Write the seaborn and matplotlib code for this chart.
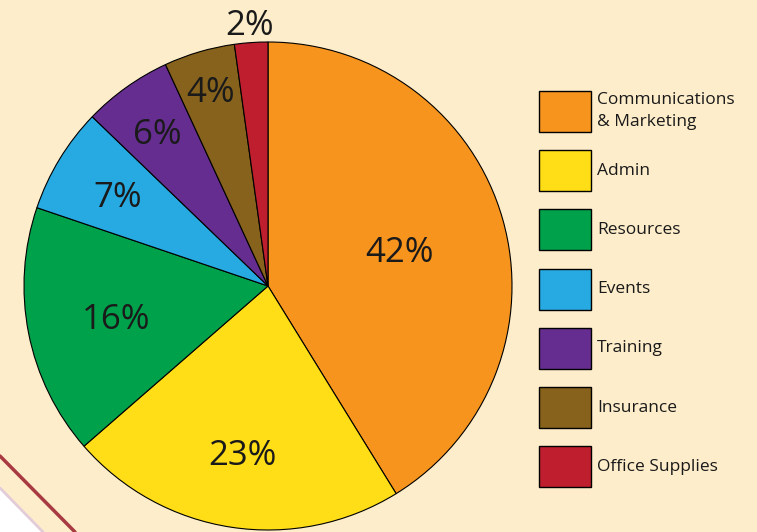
import numpy as np
import matplotlib
matplotlib.use("Agg")
import matplotlib.pyplot as plt
from matplotlib.patches import Polygon, Rectangle
from matplotlib.lines import Line2D
from matplotlib.transforms import offset_copy
import seaborn as sns

# budget breakdown (wedge sizes as drawn, labels as printed)
categories = ["Communications\n& Marketing", "Admin", "Resources", "Events",
              "Training", "Insurance", "Office Supplies"]
shares = [41.2, 22.4, 16.6, 7.0, 5.9, 4.7, 2.2]
pct_labels = ["42%", "23%", "16%", "7%", "6%", "4%", "2%"]
colors = ["#F7941D", "#FFDD17", "#00A14B", "#27AAE1", "#662D91", "#86621C", "#BE1E2D"]

# radial distance of each percentage label (styling)
label_dist = [0.56, 0.69, 0.636, 0.722, 0.782, 0.84, 1.086]

bg = "#FDEDCA"
ink = "#1A1A1A"
sns.set_style("white")
plt.rcParams["font.family"] = ["Open Sans", "DejaVu Sans"]

fig = plt.figure(figsize=(7.57, 5.32), dpi=100)
fig.patch.set_facecolor(bg)

W, H = 757, 532
# decorative corner
fig.patches.append(Polygon([(0, 0), (43 / W, 0), (0, (H - 488) / H)], closed=True,
                           transform=fig.transFigure, facecolor="white", edgecolor="none"))
fig.add_artist(Line2D([0, 43 / W], [(H - 488) / H, 0], transform=fig.transFigure,
                      color="#E3CCDA", lw=2))
fig.add_artist(Line2D([0, 75 / W], [(H - 456) / H, 0], transform=fig.transFigure,
                      color="#A83A42", lw=2.5))

# pie: centre (268, 286) px, radius 244 px
r = 244
ax = fig.add_axes([(268 - r) / W, (H - 286 - r) / H, 2 * r / W, 2 * r / H])
ax.set_facecolor("none")
wedges, _ = ax.pie(shares, colors=colors, startangle=90, counterclock=False,
                   wedgeprops=dict(edgecolor="black", linewidth=0.8))
# nudge labels down a little so the digits, not the line box, sit centred
lab_tr = offset_copy(ax.transData, fig=fig, x=0, y=-4, units="dots")
for w, lab, d in zip(wedges, pct_labels, label_dist):
    ang = np.deg2rad((w.theta1 + w.theta2) / 2)
    ax.text(d * np.cos(ang), d * np.sin(ang), lab, ha="center", va="center",
            fontsize=25, color=ink, clip_on=False, transform=lab_tr)
ax.set_xlim(-1, 1)
ax.set_ylim(-1, 1)
ax.set_aspect("equal")
ax.axis("off")

# legend: swatch rows on the right
box_x, box_w, box_h = 539, 52, 41
top0, pitch = 91, 59.2
for i, (cat, c) in enumerate(zip(categories, colors)):
    top = top0 + i * pitch
    fig.add_artist(Rectangle((box_x / W, (H - top - box_h) / H), box_w / W, box_h / H,
                             transform=fig.transFigure, facecolor=c,
                             edgecolor="black", linewidth=1))
    fig.text(597 / W, (H - top - box_h / 2) / H, cat, ha="left", va="center",
             fontsize=12.5, color=ink, linespacing=1.5)

fig.savefig("out.png", dpi=100, facecolor=bg)
